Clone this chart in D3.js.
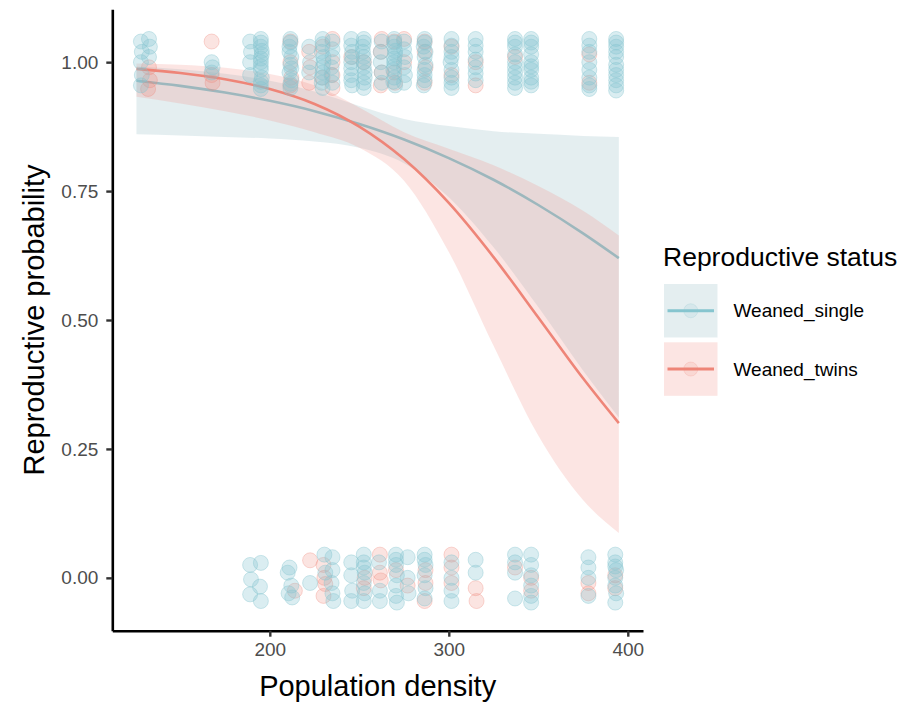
<!DOCTYPE html>
<html>
<head>
<meta charset="utf-8">
<script src="https://cdn.jsdelivr.net/npm/d3@7"></script>
<style>
  body { margin: 0; background: #fff; }
  svg { display: block; font-family: "Liberation Sans", Arial, Helvetica, sans-serif; }
</style>
</head>
<body>
<svg id="chart" width="914" height="704"></svg>
<script>
// fitted curves at these densities
const densities = [125.5, 150, 175, 200, 225, 250, 275, 300, 325, 350, 375, 395];
const singleFit = [0.964, 0.954, 0.941, 0.925, 0.905, 0.880, 0.850, 0.814, 0.772, 0.723, 0.668, 0.620];
const singleLow = [0.860, 0.858, 0.855, 0.852, 0.846, 0.834, 0.804, 0.738, 0.641, 0.525, 0.402, 0.311];
const singleHigh = [0.9915, 0.9863, 0.9776, 0.964, 0.943, 0.915, 0.890, 0.876, 0.866, 0.861, 0.857, 0.855];
const twinsFit = [0.987, 0.979, 0.967, 0.948, 0.919, 0.875, 0.812, 0.727, 0.622, 0.505, 0.387, 0.300];
const twinsLow = [0.933, 0.920, 0.905, 0.887, 0.864, 0.834, 0.770, 0.632, 0.450, 0.276, 0.151, 0.087];
const twinsHigh = [0.9976, 0.9949, 0.9892, 0.977, 0.955, 0.912, 0.864, 0.832, 0.800, 0.760, 0.712, 0.664];

// jittered observations [density, outcome]
const singlePoints = [
  [128, 1.04], [128.5, 1.02], [128, 1.0], [128.5, 0.975], [128, 0.955],
  [132.5, 1.045], [133, 1.03], [132.5, 1.01],
  [167.5, 1.0], [168, 0.99], [167.5, 0.98],
  [189, 1.04], [189.5, 1.02], [189, 1.0], [189, 0.975],
  [195, 1.045], [195, 1.03], [195.5, 1.015], [195, 1.0], [195, 0.985], [195.5, 0.97], [195, 0.955], [195, 0.948],
  [195, 1.038], [195.5, 1.022], [195, 1.007], [195, 0.992], [195, 0.962],
  [211.5, 1.045], [211, 1.03], [212, 1.01], [211.5, 0.995], [211, 0.98], [212, 0.965], [211.5, 0.95],
  [211.5, 1.038], [211, 1.02], [212, 0.988], [211.5, 0.958],
  [222, 1.03], [222.5, 1.0], [222, 0.98],
  [229.5, 1.045], [229, 1.02], [230, 1.0], [229.5, 0.98], [229, 0.96], [229.5, 0.95],
  [229.5, 1.035], [230, 1.01], [229.5, 0.99], [229, 0.97],
  [235, 1.04], [235, 1.01], [234.5, 0.99], [235, 0.96], [235, 1.025], [234.5, 0.975],
  [245.5, 1.045], [246, 1.02], [245.5, 1.0], [245.5, 0.975], [246, 0.955],
  [245.5, 1.032], [246, 1.01], [245.5, 0.988], [245.5, 0.965],
  [252.5, 1.045], [252, 1.03], [252.5, 1.01], [252.5, 0.99], [253, 0.97], [252.5, 0.95],
  [252.5, 1.038], [252, 1.02], [252.5, 1.0], [253, 0.98], [252.5, 0.96],
  [262.5, 1.04], [262, 1.0], [262.5, 0.96], [262, 1.02], [262.5, 0.98],
  [269.5, 1.045], [269.5, 1.03], [270, 1.015], [269.5, 1.0], [269, 0.985], [269.5, 0.97], [270, 0.955],
  [269.5, 1.038], [270, 1.022], [269.5, 1.007], [269.5, 0.992], [269, 0.962],
  [275, 1.04], [275.5, 1.01], [275, 0.99], [275, 0.96], [275, 1.025], [275.5, 0.975],
  [286.5, 1.045], [286, 1.03], [286.5, 1.01], [287, 0.995], [286.5, 0.975], [286, 0.955],
  [286.5, 1.038], [287, 1.02], [286.5, 0.985], [286.5, 0.965],
  [301.5, 1.045], [301.5, 1.02], [301, 1.0], [301.5, 0.97], [301.5, 0.95],
  [301.5, 1.032], [301.5, 1.01], [301.5, 0.985], [301.5, 0.96],
  [315, 1.045], [315, 1.02], [315, 0.99], [315, 0.965], [315, 1.032], [315, 1.005], [315, 0.978],
  [337, 1.045], [337, 1.03], [337, 1.0], [337, 0.98], [337, 0.96], [337, 0.95],
  [337, 1.038], [337, 1.015], [337, 0.99], [337, 0.97],
  [346, 1.045], [346, 1.03], [346, 1.0], [346, 0.985], [346, 0.97], [346, 0.955],
  [346, 1.038], [346, 1.015], [346, 0.992], [346, 0.962],
  [378.5, 1.045], [378.5, 1.02], [378.5, 1.0], [378.5, 0.97], [378.5, 0.955],
  [378.5, 1.032], [378.5, 0.985], [378.5, 0.948],
  [393.5, 1.045], [393.5, 1.03], [393.5, 1.01], [393.5, 0.995], [393.5, 0.975], [393.5, 0.955], [393.5, 0.945],
  [393.5, 1.038], [393.5, 1.02], [393.5, 0.985], [393.5, 0.965],
  [189, 0.025], [195, 0.029], [189.5, -0.003], [194.5, -0.017], [189, -0.032], [195, -0.045],
  [211, 0.02], [210, 0.01], [212, -0.015], [210.5, -0.03], [212.5, -0.038],
  [222.5, -0.01],
  [230.5, 0.045], [231, 0.01], [235, 0.04], [235, 0.015], [234.5, -0.01], [235, -0.03], [235.5, -0.045],
  [245.5, 0.03], [245.5, 0.005], [246, -0.025], [245.5, -0.045],
  [252.5, 0.045], [252.5, 0.03], [253, 0.01], [252.5, -0.01], [253, -0.03], [252.5, -0.045], [252.5, 0.02],
  [261, 0.03], [261.5, -0.025], [261.5, -0.045],
  [270.5, 0.045], [270.5, 0.025], [271, 0.005], [270.5, -0.015], [270.5, -0.035], [271, -0.048], [270.5, 0.035],
  [277, 0.04], [277, 0.0], [277.5, -0.03],
  [286.5, 0.045], [287, 0.025], [286.5, 0.005], [287, -0.02], [286.5, -0.04], [286.5, 0.035],
  [301.5, 0.03], [301.5, 0.0], [301.5, -0.025], [301.5, -0.045],
  [315, 0.035], [315, 0.01],
  [337, 0.045], [337, 0.03], [337, 0.01], [337, -0.04],
  [346, 0.045], [346, 0.025], [346, 0.005], [346, -0.015], [346, -0.035], [346, -0.048],
  [378, 0.04], [378, 0.02], [378, 0.0], [378, -0.035],
  [393, 0.045], [393, 0.03], [393.5, 0.015], [393, 0.0], [393, -0.015], [393.5, -0.03], [393, -0.048], [393, 0.022],
];
const twinsPoints = [
  [132.5, 0.99], [133, 0.965], [132, 0.948],
  [167.5, 1.04], [167.5, 0.975], [168, 0.96],
  [211.5, 1.04], [211.5, 1.0], [212, 0.97], [211.5, 0.955],
  [222, 1.02], [222.5, 0.99], [222, 0.96],
  [229.5, 1.03], [229.5, 0.97],
  [235, 1.045], [235, 1.0], [235, 0.975], [235, 0.95],
  [245.5, 1.01],
  [252.5, 1.0],
  [262.5, 1.045], [262, 1.02], [262.5, 0.98], [262, 0.955],
  [269.5, 1.04], [269.5, 0.98], [270, 0.96],
  [275, 1.045], [275, 1.0],
  [286.5, 1.04], [286.5, 1.02], [287, 0.99], [286.5, 0.96],
  [301.5, 1.03], [301.5, 0.975],
  [315, 1.0], [315, 0.955],
  [337, 1.01],
  [378.5, 1.015], [378.5, 0.96],
  [214, -0.025],
  [222.5, 0.034],
  [230, 0.025], [230.5, 0.0], [231, -0.012], [230, -0.035],
  [253, 0.0], [252.5, -0.02],
  [261.5, 0.045], [261.5, 0.01], [262, -0.005],
  [270.5, 0.015],
  [277, -0.015],
  [287, 0.015], [287, -0.01], [286.5, -0.045],
  [301.5, 0.045], [301.5, 0.02], [301.5, -0.01],
  [315, -0.02], [315.5, -0.045],
  [337, 0.02],
  [346, 0.0], [346, -0.025],
  [378, -0.01], [378, -0.03],
  [393, 0.005], [393, -0.02],
];

const groups = ["Weaned_single", "Weaned_twins"];
const xTicks = [200, 300, 400];
const yTicks = [0, 0.25, 0.5, 0.75, 1];

const COLORS = {
  single: "#86c5cf",
  twins: "#ee8578",
  singleRibbon: "#9fc3c9",
  twinsRibbon: "#f08a7e",
};

const PANEL = { left: 112.3, right: 643, top: 9.3, bottom: 630.7 };

const svg = d3.select("#chart");

const x = d3.scaleLinear().domain([112.0, 408.5]).range([PANEL.left, PANEL.right]);
const y = d3.scaleLinear().domain([-0.1025, 1.1025]).range([PANEL.bottom, PANEL.top]);

const area = (lo, hi) =>
  d3.area()
    .x((d, i) => x(densities[i]))
    .y0((d, i) => y(lo[i]))
    .y1((d, i) => y(hi[i]))
    .curve(d3.curveMonotoneX)(densities);

const line = (vals) =>
  d3.line()
    .x((d, i) => x(densities[i]))
    .y((d, i) => y(vals[i]))
    .curve(d3.curveMonotoneX)(densities);

const smooth = svg.append("g");

// same order as ggplot: ribbon + line per group
smooth.append("path").attr("d", area(singleLow, singleHigh))
  .attr("fill", COLORS.singleRibbon).attr("fill-opacity", 0.28);
smooth.append("path").attr("d", line(singleFit))
  .attr("fill", "none").attr("stroke", COLORS.single).attr("stroke-width", 2.6);
smooth.append("path").attr("d", area(twinsLow, twinsHigh))
  .attr("fill", COLORS.twinsRibbon).attr("fill-opacity", 0.22);
smooth.append("path").attr("d", line(twinsFit))
  .attr("fill", "none").attr("stroke", COLORS.twins).attr("stroke-width", 2.6);

const pts = svg.append("g");
const drawPoints = (data, color, op) =>
  pts.append("g")
    .selectAll("circle")
    .data(data)
    .join("circle")
    .attr("cx", (d) => x(d[0]))
    .attr("cy", (d) => y(d[1]))
    .attr("r", 7.5)
    .attr("fill", color)
    .attr("fill-opacity", op)
    .attr("stroke", color)
    .attr("stroke-opacity", op + 0.1)
    .attr("stroke-width", 1);

drawPoints(twinsPoints, COLORS.twins, 0.22);
drawPoints(singlePoints, COLORS.single, 0.3);

// axes
const xAxis = svg.append("g")
  .attr("transform", `translate(0, ${PANEL.bottom})`)
  .call(d3.axisBottom(x).tickValues(xTicks).tickSize(6).tickSizeOuter(0).tickPadding(6));
const yAxis = svg.append("g")
  .attr("transform", `translate(${PANEL.left}, 0)`)
  .call(d3.axisLeft(y).tickValues(yTicks).tickFormat(d3.format(".2f")).tickSize(6).tickSizeOuter(0).tickPadding(8));

[xAxis, yAxis].forEach((g) => {
  g.select(".domain").attr("stroke", "#000").attr("stroke-width", 2.6);
  g.selectAll(".tick line").attr("stroke", "#333").attr("stroke-width", 2.4);
  g.selectAll(".tick text")
    .attr("fill", "#4d4d4d")
    .attr("font-size", 19)
    .attr("font-family", "Liberation Sans, Arial, sans-serif");
});

svg.append("text")
  .attr("x", (PANEL.left + PANEL.right) / 2)
  .attr("y", 696)
  .attr("text-anchor", "middle")
  .attr("font-size", 29)
  .attr("fill", "#000")
  .text("Population density");

svg.append("text")
  .attr("transform", `translate(44, ${(PANEL.top + PANEL.bottom) / 2}) rotate(-90)`)
  .attr("text-anchor", "middle")
  .attr("font-size", 29)
  .attr("fill", "#000")
  .text("Reproductive probability");

// legend
const legend = svg.append("g").attr("transform", "translate(663, 0)");
legend.append("text")
  .attr("x", 0)
  .attr("y", 266)
  .attr("font-size", 26.5)
  .attr("fill", "#000")
  .text("Reproductive status");

const keys = [
  { label: groups[0], color: COLORS.single, fill: COLORS.singleRibbon, op: 0.28, y: 284 },
  { label: groups[1], color: COLORS.twins, fill: COLORS.twinsRibbon, op: 0.22, y: 342.3 },
];
const key = legend.selectAll("g.key").data(keys).join("g")
  .attr("class", "key")
  .attr("transform", (d) => `translate(1, ${d.y})`);
key.append("rect")
  .attr("width", 53.5).attr("height", 53.5)
  .attr("fill", (d) => d.fill).attr("fill-opacity", (d) => d.op);
key.append("circle")
  .attr("cx", 26.75).attr("cy", 26.75).attr("r", 7)
  .attr("fill", (d) => d.color).attr("fill-opacity", 0.15)
  .attr("stroke", (d) => d.color).attr("stroke-opacity", 0.2);
key.append("line")
  .attr("x1", 3.5).attr("x2", 50).attr("y1", 26.75).attr("y2", 26.75)
  .attr("stroke", (d) => d.color).attr("stroke-width", 3);
key.append("text")
  .attr("x", 69.5)
  .attr("y", 26.75)
  .attr("dy", "0.35em")
  .attr("font-size", 19)
  .attr("fill", "#000")
  .text((d) => d.label);
</script>
</body>
</html>
